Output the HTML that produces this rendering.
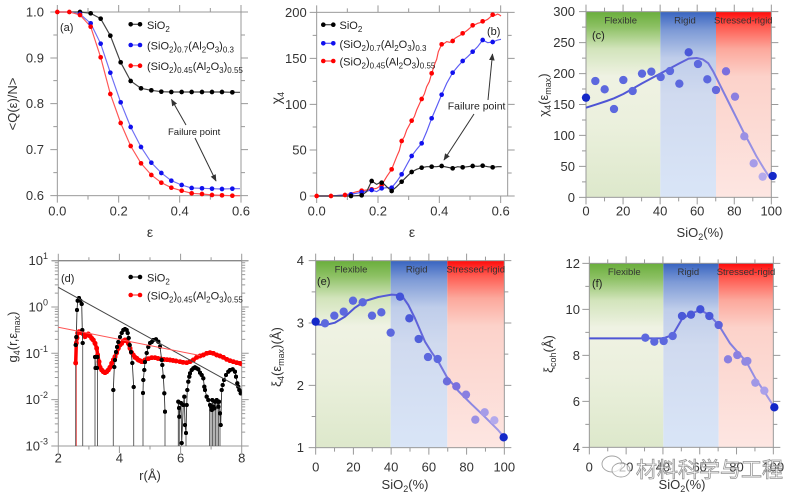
<!DOCTYPE html>
<html><head><meta charset="utf-8">
<style>
html,body{margin:0;padding:0;background:#fff;}
svg{display:block;font-family:"Liberation Sans","Noto Sans CJK SC",sans-serif;}
</style></head><body>
<svg width="800" height="501" viewBox="0 0 800 501" xmlns="http://www.w3.org/2000/svg">
<defs>
<linearGradient id="gG" x1="0" y1="0" x2="0" y2="1">
<stop offset="0" stop-color="#6aae3c"/><stop offset="0.08" stop-color="#8cc063"/><stop offset="0.2" stop-color="#d2e4bb"/><stop offset="0.35" stop-color="#eff2e3"/><stop offset="0.6" stop-color="#ebf0dd"/><stop offset="1" stop-color="#dde8cb"/>
</linearGradient>
<linearGradient id="gB" x1="0" y1="0" x2="0" y2="1">
<stop offset="0" stop-color="#3864c0"/><stop offset="0.1" stop-color="#7d9ad6"/><stop offset="0.25" stop-color="#bfcdea"/><stop offset="0.45" stop-color="#d0daef"/><stop offset="1" stop-color="#d9e5f7"/>
</linearGradient>
<linearGradient id="gR" x1="0" y1="0" x2="0" y2="1">
<stop offset="0" stop-color="#ff0a0a"/><stop offset="0.08" stop-color="#ff5a50"/><stop offset="0.2" stop-color="#fca89c"/><stop offset="0.35" stop-color="#fcd2ca"/><stop offset="1" stop-color="#fde6e2"/>
</linearGradient>
<linearGradient id="fl" x1="0" y1="0" x2="1" y2="0">
<stop offset="0" stop-color="#4a52d4"/><stop offset="0.5" stop-color="#5a5ed8"/><stop offset="1" stop-color="#a59ce6"/>
</linearGradient>
<marker id="mK" markerUnits="userSpaceOnUse" viewBox="0 0 6 6" refX="3" refY="3" markerWidth="4.4" markerHeight="4.4"><circle cx="3" cy="3" r="3" fill="#000"/></marker>
<marker id="mR" markerUnits="userSpaceOnUse" viewBox="0 0 6 6" refX="3" refY="3" markerWidth="5" markerHeight="5"><circle cx="3" cy="3" r="3" fill="#f00"/></marker>
<marker id="ah" viewBox="0 0 10 10" refX="9" refY="5" markerWidth="7" markerHeight="7" orient="auto" markerUnits="userSpaceOnUse"><path d="M0,1 L10,5 L0,9 z" fill="#333"/></marker>
<clipPath id="cd"><rect x="58.3" y="260.7" width="183.4" height="185.3"/></clipPath>
</defs>

<!-- ================= PANEL A ================= -->
<g transform="scale(0.333333)">
<rect x="172" y="36" width="551" height="551" fill="none" stroke="#999" stroke-width="3"/>
<path d="M151,36H172M160,105H172M151,174H172M160,242H172M151,311H172M160,380H172M151,449H172M160,518H172M151,587H172M723,36H744M723,105H735M723,174H744M723,242H735M723,311H744M723,380H735M723,449H744M723,518H735M723,587H744M172,587V608M264,587V599M356,587V608M447,587V599M539,587V608M631,587V599M723,587V608M172,36V15M264,36V24M356,36V15M447,36V24M539,36V15M631,36V24M723,36V15" stroke="#999" stroke-width="3" fill="none"/>
<polyline fill="none" stroke="#444" stroke-width="3.5" points="172,36 208,36 240,36 272,40 302,56 331,107 362,187 392,243 423,265 454,271 484,275 514,276 545,276 575,276 606,276 636,276 666,276 697,277 720,277"/>
<polyline fill="none" stroke="#6f6ff5" stroke-width="3.5" points="172,36 208,36 240,42 272,70 302,131 331,218 362,307 392,381 423,441 454,488 484,519 514,542 545,555 575,564 606,565 636,566 666,567 697,566 720,566"/>
<polyline fill="none" stroke="#ff5555" stroke-width="3.5" points="172,36 208,36 240,45 272,80 302,172 331,282 362,369 392,438 423,490 454,525 484,548 514,563 545,572 575,580 606,582 636,585 666,586 697,587 720,587"/>
<g fill="#000">
<circle cx="240" cy="36" r="7"/><circle cx="272" cy="40" r="7"/><circle cx="302" cy="56" r="7"/><circle cx="331" cy="107" r="7"/><circle cx="362" cy="187" r="7"/><circle cx="392" cy="243" r="7"/><circle cx="423" cy="265" r="7"/><circle cx="454" cy="271" r="7"/><circle cx="484" cy="275" r="7"/><circle cx="514" cy="276" r="7"/><circle cx="545" cy="276" r="7"/><circle cx="575" cy="276" r="7"/><circle cx="606" cy="276" r="7"/><circle cx="636" cy="276" r="7"/><circle cx="666" cy="276" r="7"/><circle cx="697" cy="277" r="7"/>
</g>
<g fill="#1010ee">
<circle cx="240" cy="42" r="7"/><circle cx="272" cy="70" r="7"/><circle cx="302" cy="131" r="7"/><circle cx="331" cy="218" r="7"/><circle cx="362" cy="307" r="7"/><circle cx="392" cy="381" r="7"/><circle cx="423" cy="441" r="7"/><circle cx="454" cy="488" r="7"/><circle cx="484" cy="519" r="7"/><circle cx="514" cy="542" r="7"/><circle cx="545" cy="555" r="7"/><circle cx="575" cy="564" r="7"/><circle cx="606" cy="565" r="7"/><circle cx="636" cy="566" r="7"/><circle cx="666" cy="567" r="7"/><circle cx="697" cy="566" r="7"/>
</g>
<g fill="#f00">
<circle cx="172" cy="36" r="7"/><circle cx="208" cy="36" r="7"/><circle cx="240" cy="45" r="7"/><circle cx="272" cy="80" r="7"/><circle cx="302" cy="172" r="7"/><circle cx="331" cy="282" r="7"/><circle cx="362" cy="369" r="7"/><circle cx="392" cy="438" r="7"/><circle cx="423" cy="490" r="7"/><circle cx="454" cy="525" r="7"/><circle cx="484" cy="548" r="7"/><circle cx="514" cy="563" r="7"/><circle cx="545" cy="572" r="7"/><circle cx="575" cy="580" r="7"/><circle cx="606" cy="582" r="7"/><circle cx="636" cy="585" r="7"/><circle cx="666" cy="586" r="7"/><circle cx="697" cy="587" r="7"/>
</g>
</g>
<g font-size="13" fill="#333">
<g text-anchor="end"><text x="44" y="16.5">1.0</text><text x="44" y="62.5">0.9</text><text x="44" y="108.2">0.8</text><text x="44" y="154.2">0.7</text><text x="44" y="200.2">0.6</text></g>
<g text-anchor="middle"><text x="57.3" y="215.5">0.0</text><text x="118.7" y="215.5">0.2</text><text x="179.7" y="215.5">0.4</text><text x="241" y="215.5">0.6</text></g>
<text x="150" y="237" text-anchor="middle" font-size="14">ε</text>
<text transform="translate(17,104) rotate(-90)" text-anchor="middle">&lt;Q(ε)/N&gt;</text>
</g>
<text x="60" y="31" font-size="11" fill="#222">(a)</text>
<g stroke-width="1.2">
<line x1="130.7" y1="24.3" x2="140" y2="24.3" stroke="#444"/><circle cx="130.7" cy="24.3" r="2.3" fill="#000"/><circle cx="140" cy="24.3" r="2.3" fill="#000"/>
<line x1="130.7" y1="45" x2="140" y2="45" stroke="#6f6ff5"/><circle cx="130.7" cy="45" r="2.3" fill="#1010ee"/><circle cx="140" cy="45" r="2.3" fill="#1010ee"/>
<line x1="130.7" y1="65.7" x2="140" y2="65.7" stroke="#f55"/><circle cx="130.7" cy="65.7" r="2.3" fill="#f00"/><circle cx="140" cy="65.7" r="2.3" fill="#f00"/>
</g>
<g font-size="11" fill="#222">
<text x="147" y="28.8">SiO<tspan dy="3" font-size="8">2</tspan></text>
<text x="147" y="49.5">(SiO<tspan dy="3" font-size="8">2</tspan><tspan dy="-3">)</tspan><tspan dy="3" font-size="8">0.7</tspan><tspan dy="-3">(Al</tspan><tspan dy="3" font-size="8">2</tspan><tspan dy="-3">O</tspan><tspan dy="3" font-size="8">3</tspan><tspan dy="-3">)</tspan><tspan dy="3" font-size="8">0.3</tspan></text>
<text x="147" y="70.2">(SiO<tspan dy="3" font-size="8">2</tspan><tspan dy="-3">)</tspan><tspan dy="3" font-size="8">0.45</tspan><tspan dy="-3">(Al</tspan><tspan dy="3" font-size="8">2</tspan><tspan dy="-3">O</tspan><tspan dy="3" font-size="8">3</tspan><tspan dy="-3">)</tspan><tspan dy="3" font-size="8">0.55</tspan></text>
</g>
<text x="168" y="135" font-size="9.5" fill="#222">Failure point</text>
<g stroke="#333" stroke-width="1" marker-end="url(#ah)"><line x1="186" y1="125" x2="171.5" y2="99.5"/><line x1="195" y1="138" x2="216" y2="181"/></g>

<!-- ================= PANEL B ================= -->
<g transform="translate(265,0) scale(0.333333)">
<rect x="155" y="37" width="573" height="551" fill="none" stroke="#999" stroke-width="3"/>
<path d="M134,37H155M143,106H155M134,175H155M143,244H155M134,313H155M143,381H155M134,450H155M143,519H155M134,588H155M728,37H749M728,106H740M728,175H749M728,244H740M728,313H749M728,381H740M728,450H749M728,519H740M728,588H749M155,588V609M247,588V600M339,588V609M431,588V600M523,588V609M615,588V600M707,588V609M155,37V16M247,37V25M339,37V16M431,37V25M523,37V16M615,37V25M707,37V16" stroke="#999" stroke-width="3" fill="none"/>
<polyline fill="none" stroke="#ff4444" stroke-width="3.5" points="155,588 198,588 240,585 258,580 275,575 290,572 305,570 320,568 335,565 350,555 365,530 380,508 395,470 403,452 410,423 418,410 425,390 440,362 448,350 455,330 470,297 478,282 485,260 493,245 500,220 510,190 515,178 520,155 530,133 538,130 545,125 555,127 563,123 570,115 578,110 585,106 593,100 600,96 608,90 615,84 623,76 630,74 638,70 645,68 653,64 660,62 668,58 675,52 683,44 690,46 698,42 704,45 708,48"/>
<polyline fill="none" stroke="#5a5af5" stroke-width="3.5" points="155,588 198,588 240,585 258,583 290,577 320,570 335,575 350,565 365,563 380,563 395,545 410,523 425,495 440,468 455,448 470,430 485,395 500,355 515,320 530,284 545,250 563,218 578,200 593,183 608,170 623,155 638,140 653,120 668,128 683,126 698,120 708,118"/>
<polyline fill="none" stroke="#333" stroke-width="3.5" points="155,588 198,588 240,588 258,588 290,586 305,575 320,543 335,553 350,545 365,560 380,573 395,560 410,545 425,530 440,516 455,508 470,503 485,500 500,500 515,500 530,498 548,502 563,505 578,500 593,502 608,500 623,498 638,499 653,497 668,500 683,502 698,500 710,500"/>
<g fill="#f00">
<circle cx="155" cy="588" r="7"/><circle cx="198" cy="588" r="7"/><circle cx="240" cy="585" r="7"/><circle cx="290" cy="572" r="7"/><circle cx="320" cy="568" r="7"/><circle cx="350" cy="555" r="7"/><circle cx="380" cy="508" r="7"/><circle cx="410" cy="423" r="7"/><circle cx="440" cy="362" r="7"/><circle cx="470" cy="297" r="7"/><circle cx="500" cy="220" r="7"/><circle cx="530" cy="133" r="7"/><circle cx="563" cy="123" r="7"/><circle cx="593" cy="100" r="7"/><circle cx="623" cy="76" r="7"/><circle cx="653" cy="64" r="7"/><circle cx="683" cy="44" r="7"/>
</g>
<g fill="#1010ee">
<circle cx="258" cy="583" r="7"/><circle cx="290" cy="577" r="7"/><circle cx="320" cy="570" r="7"/><circle cx="350" cy="565" r="7"/><circle cx="380" cy="563" r="7"/><circle cx="410" cy="523" r="7"/><circle cx="440" cy="468" r="7"/><circle cx="470" cy="430" r="7"/><circle cx="500" cy="355" r="7"/><circle cx="530" cy="284" r="7"/><circle cx="563" cy="218" r="7"/><circle cx="593" cy="183" r="7"/><circle cx="623" cy="155" r="7"/><circle cx="653" cy="120" r="7"/><circle cx="683" cy="126" r="7"/>
</g>
<g fill="#000">
<circle cx="258" cy="588" r="7"/><circle cx="290" cy="586" r="7"/><circle cx="320" cy="543" r="7"/><circle cx="350" cy="548" r="7"/><circle cx="380" cy="573" r="7"/><circle cx="410" cy="545" r="7"/><circle cx="440" cy="516" r="7"/><circle cx="470" cy="503" r="7"/><circle cx="500" cy="500" r="7"/><circle cx="530" cy="498" r="7"/><circle cx="563" cy="505" r="7"/><circle cx="593" cy="502" r="7"/><circle cx="623" cy="498" r="7"/><circle cx="653" cy="497" r="7"/><circle cx="683" cy="502" r="7"/>
</g>
</g>
<g font-size="13" fill="#333">
<g text-anchor="end"><text x="306.7" y="16.8">200</text><text x="306.7" y="62.8">150</text><text x="306.7" y="108.8">100</text><text x="306.7" y="154.5">50</text><text x="306.7" y="200.5">0</text></g>
<g text-anchor="middle"><text x="316.7" y="215.5">0.0</text><text x="378" y="215.5">0.2</text><text x="439.3" y="215.5">0.4</text><text x="500.7" y="215.5">0.6</text></g>
<text x="412" y="237" text-anchor="middle" font-size="14">ε</text>
<text transform="translate(281,98) rotate(-90)" text-anchor="middle" font-size="14">χ<tspan dy="3" font-size="9">4</tspan></text>
</g>
<g stroke-width="1.2">
<line x1="323.3" y1="24.7" x2="333.3" y2="24.7" stroke="#444"/><circle cx="323.3" cy="24.7" r="2.3" fill="#000"/><circle cx="333.3" cy="24.7" r="2.3" fill="#000"/>
<line x1="323.3" y1="43.3" x2="333.3" y2="43.3" stroke="#5a5af5"/><circle cx="323.3" cy="43.3" r="2.3" fill="#1010ee"/><circle cx="333.3" cy="43.3" r="2.3" fill="#1010ee"/>
<line x1="323.3" y1="61" x2="333.3" y2="61" stroke="#f44"/><circle cx="323.3" cy="61" r="2.3" fill="#f00"/><circle cx="333.3" cy="61" r="2.3" fill="#f00"/>
</g>
<g font-size="11" fill="#222">
<text x="339.5" y="29.2">SiO<tspan dy="3" font-size="8">2</tspan></text>
<text x="339.5" y="47.8">(SiO<tspan dy="3" font-size="8">2</tspan><tspan dy="-3">)</tspan><tspan dy="3" font-size="8">0.7</tspan><tspan dy="-3">(Al</tspan><tspan dy="3" font-size="8">2</tspan><tspan dy="-3">O</tspan><tspan dy="3" font-size="8">3</tspan><tspan dy="-3">)</tspan><tspan dy="3" font-size="8">0.3</tspan></text>
<text x="339.5" y="65.5">(SiO<tspan dy="3" font-size="8">2</tspan><tspan dy="-3">)</tspan><tspan dy="3" font-size="8">0.45</tspan><tspan dy="-3">(Al</tspan><tspan dy="3" font-size="8">2</tspan><tspan dy="-3">O</tspan><tspan dy="3" font-size="8">3</tspan><tspan dy="-3">)</tspan><tspan dy="3" font-size="8">0.55</tspan></text>
</g>
<text x="487" y="35" font-size="11" fill="#222">(b)</text>
<text x="447.7" y="109.5" font-size="10.5" fill="#222">Failure point</text>
<g stroke="#333" stroke-width="1" marker-end="url(#ah)"><line x1="474" y1="114" x2="444" y2="160"/><line x1="488" y1="100" x2="492.5" y2="54"/></g>

<!-- ================= PANEL C ================= -->
<g transform="translate(530,0) scale(0.333333)">
<rect x="168" y="35" width="223" height="557" fill="url(#gG)"/>
<rect x="391" y="35" width="167" height="557" fill="url(#gB)"/>
<rect x="558" y="35" width="166" height="557" fill="url(#gR)"/>
<rect x="168" y="35" width="556" height="557" fill="none" stroke="#999" stroke-width="3"/>
<path d="M147,35H168M156,81.4H168M147,127.8H168M156,174.3H168M147,220.7H168M156,267.1H168M147,313.5H168M156,359.9H168M147,406.3H168M156,452.8H168M147,499.2H168M156,545.6H168M147,592H168M724,35H745M724,81.4H736M724,127.8H745M724,174.3H736M724,220.7H745M724,267.1H736M724,313.5H745M724,359.9H736M724,406.3H745M724,452.8H736M724,499.2H745M724,545.6H736M724,592H745M168,592V613M223.6,592V604M279.2,592V613M334.8,592V604M390.4,592V613M446,592V604M501.6,592V613M557.2,592V604M612.8,592V613M668.4,592V604M724,592V613M168,35V14M223.6,35V23M279.2,35V14M334.8,35V23M390.4,35V14M446,35V23M501.6,35V14M557.2,35V23M612.8,35V14M668.4,35V23M724,35V14" stroke="#999" stroke-width="3" fill="none"/>
<polyline fill="none" stroke="url(#fl)" stroke-width="6" stroke-linejoin="round" points="168,323 200,313 230,303 252,295 280,282 310,265 336,250 364,235 392,220 420,205 448,190 476,176 500,174 518,178 535,190 550,215 565,245 580,275 600,315 620,355 640,395 660,432 680,470 700,503 720,534"/>
<g fill="#5c68de">
<circle cx="196" cy="243" r="12.5"/><circle cx="224" cy="268" r="12.5"/><circle cx="252" cy="327" r="12.5"/><circle cx="280" cy="240" r="12.5"/><circle cx="308" cy="273" r="12.5"/><circle cx="336" cy="221" r="12.5"/><circle cx="364" cy="215" r="12.5"/><circle cx="392" cy="231" r="12.5"/><circle cx="420" cy="213" r="12.5"/><circle cx="448" cy="251" r="12.5"/><circle cx="476" cy="157" r="12.5" fill="#4a58d8"/><circle cx="504" cy="192" r="12.5"/><circle cx="532" cy="238" r="12.5"/><circle cx="558" cy="270" r="12.5" fill="#6468dc"/>
</g>
<circle cx="588" cy="214" r="12.5" fill="#7a6fde"/><circle cx="615" cy="290" r="12.5" fill="#8a7fe0"/><circle cx="643" cy="409" r="12.5" fill="#9a90e4"/><circle cx="671" cy="490" r="12.5" fill="#a69ce8"/><circle cx="698" cy="530" r="12.5" fill="#b4aaec"/>
<circle cx="168" cy="293" r="12.5" fill="#1428c8"/><circle cx="728" cy="528" r="12.5" fill="#1428c8"/>
</g>
<g font-size="13" fill="#333">
<g text-anchor="end"><text x="575" y="16.2">300</text><text x="575" y="47.1">250</text><text x="575" y="78.1">200</text><text x="575" y="109">150</text><text x="575" y="139.9">100</text><text x="575" y="170.9">50</text><text x="575" y="201.8">0</text></g>
<g text-anchor="middle"><text x="586" y="215.5">0</text><text x="623.1" y="215.5">20</text><text x="660.1" y="215.5">40</text><text x="697.2" y="215.5">60</text><text x="734.3" y="215.5">80</text><text x="771.3" y="215.5">100</text></g>
<text x="700" y="237" text-anchor="middle">SiO<tspan dy="3" font-size="9">2</tspan><tspan dy="-3">(%)</tspan></text>
<text transform="translate(548,95) rotate(-90)" text-anchor="middle">χ<tspan dy="3" font-size="9">4</tspan><tspan dy="-3">(ε</tspan><tspan dy="3" font-size="9">max</tspan><tspan dy="-3">)</tspan></text>
</g>
<g font-size="9.5" fill="#333" text-anchor="middle"><text x="620.7" y="23.3">Flexible</text><text x="685" y="23.3">Rigid</text><text x="743.3" y="23.3">Stressed-rigid</text></g>
<text x="592" y="39" font-size="11" fill="#222">(c)</text>

<!-- ================= PANEL D ================= -->
<rect x="58.3" y="260.7" width="183.4" height="185.3" fill="none" stroke="#999" stroke-width="1"/>
<line x1="52" y1="260.7" x2="248" y2="260.7" stroke="#777" stroke-width="1"/>
<path d="M51.3,260.7H58.3M51.3,307H58.3M51.3,353.3H58.3M51.3,399.6H58.3M51.3,446H58.3M241.7,260.7H248.7M241.7,307H248.7M241.7,353.3H248.7M241.7,399.6H248.7M241.7,446H248.7M58.3,446V453M88.9,446V449.5M119.4,446V453M150,446V449.5M180.6,446V453M211.1,446V449.5M241.7,446V453M58.3,260.7V253.7M88.9,260.7V257.2M119.4,260.7V253.7M150,260.7V257.2M180.6,260.7V253.7M211.1,260.7V257.2M241.7,260.7V253.7" stroke="#999" stroke-width="1" fill="none"/>
<path d="M54.8,432.1H58.3M54.8,423.9H58.3M54.8,418.1H58.3M54.8,413.6H58.3M54.8,410H58.3M54.8,406.9H58.3M54.8,404.2H58.3M54.8,401.8H58.3M54.8,385.7H58.3M54.8,377.5H58.3M54.8,371.7H58.3M54.8,367.2H58.3M54.8,363.6H58.3M54.8,360.5H58.3M54.8,357.8H58.3M54.8,355.4H58.3M54.8,339.4H58.3M54.8,331.2H58.3M54.8,325.4H58.3M54.8,320.9H58.3M54.8,317.3H58.3M54.8,314.2H58.3M54.8,311.5H58.3M54.8,309.1H58.3M54.8,293.1H58.3M54.8,284.9H58.3M54.8,279.1H58.3M54.8,274.6H58.3M54.8,271H58.3M54.8,267.9H58.3M54.8,265.2H58.3M54.8,262.8H58.3M241.7,432.1H245.2M241.7,423.9H245.2M241.7,418.1H245.2M241.7,413.6H245.2M241.7,410H245.2M241.7,406.9H245.2M241.7,404.2H245.2M241.7,401.8H245.2M241.7,385.7H245.2M241.7,377.5H245.2M241.7,371.7H245.2M241.7,367.2H245.2M241.7,363.6H245.2M241.7,360.5H245.2M241.7,357.8H245.2M241.7,355.4H245.2M241.7,339.4H245.2M241.7,331.2H245.2M241.7,325.4H245.2M241.7,320.9H245.2M241.7,317.3H245.2M241.7,314.2H245.2M241.7,311.5H245.2M241.7,309.1H245.2M241.7,293.1H245.2M241.7,284.9H245.2M241.7,279.1H245.2M241.7,274.6H245.2M241.7,271H245.2M241.7,267.9H245.2M241.7,265.2H245.2M241.7,262.8H245.2" stroke="#999" stroke-width="1" fill="none"/>
<g clip-path="url(#cd)">
<path d="M76,446V363" stroke="#f00" stroke-width="1.2" fill="none"/>
<path d="M75.7,446V345 M82.7,343V446 M95,446V357 M97.5,357V446 M113.3,446V390 M133.7,387V446 M143,446V393 M165,411.7V446 M178.3,446V401.7 M179.3,416.7V446 M181.7,443V446 M186,433V446 M209.5,446V408 M211,446V405 M212.5,446V402 M214,446V408 M215.5,446V402 M217,446V401 M218.5,446V406 M220,446V413" stroke="#555" stroke-width="0.9" fill="none"/>
<path d="M75.7,363 L76.3,343 L77,338 L77.7,333 L79,331.7 L81,332.7 L83.3,334 L85,336.7 L86.7,335 L88.3,334 L90,336 L91.7,338.3 L93.3,340 L95,343.3 L96.7,348.3 L97.7,355 L99,361.7 L100,367.3 L101.7,370 L103.3,371.7 L105,372.7 L106.7,371.7 L108.3,370 L110,367.3 L111.7,363.3 L113.3,360 L115,356.7 L116.7,352.7 L118.3,348.3 L120,345 L121.7,343.3 L123.3,341 L125,340 L126.7,341 L128.3,343.3 L130,348.3 L131.7,352.7 L133.3,355 L135,357.3 L136.7,358.3 L138.3,360 L140,360.7 L141.7,361.7 L143.3,361.7 L145,360 L148.3,358.7 L151.7,357.7 L155,357.7 L158,358.5 L161,359 L164,359.5 L167,359.7 L170,360 L173,360.5 L176,361 L180,361.7 L183,362.3 L186.7,362.7 L190,361.7 L193.3,360 L196.7,357.3 L200,356 L203.3,355 L206.7,353.3 L210,352.7 L213.3,353.3 L216.7,355 L220,356 L223.3,357.3 L226.7,359.3 L230,360.7 L233.3,361.7 L236.7,362.7 L240,363.3 L241.7,364" stroke="#f00" stroke-width="3.5" fill="none" marker-start="url(#mR)" marker-mid="url(#mR)" marker-end="url(#mR)"/>
<g stroke="#333" stroke-width="0.9" fill="none" marker-start="url(#mK)" marker-mid="url(#mK)" marker-end="url(#mK)">
<path d="M75.7,345 L76.3,337 L77,310 L77.7,300.7 L79,298 L80.3,300.7 L81.7,304 L82.3,330 L82.7,343"/>
<path d="M95,357 L95.5,368 L97,368 L97.5,357"/>
<path d="M113.3,390 L114.3,367 L115,360 L116,352 L117,347 L118.3,342 L120,337 L121.7,333 L123.3,330 L125,329 L126.7,330 L127.7,333 L128.7,338 L129.7,345 L131,352 L132.3,363 L133.7,387"/>
<path d="M143,393 L143.3,380 L144.3,370 L145,362 L146.7,353 L148.3,347 L150,343 L151.7,342 L153.3,340 L156,339.3 L158.3,341.7 L160,346.7 L161.7,360 L162.3,365 L163.3,376.7 L164.3,393.3 L165,411.7"/>
<path d="M178.3,401.7 L179,408 L179.3,416.7 L181,403 L181.7,443 L183.3,405 L184.3,396.7 L185,425 L186,433 L186.7,405 L187.3,390 L188.3,381.7 L189.3,376.7 L190,373.3 L191.7,370 L193.3,368.3 L195,367.3 L196.7,368.3 L198.3,369.3 L200,372.7 L201.7,375 L203.3,378.3 L204.3,386.7 L205,390 L206.7,396.7 L208.3,400 L210,405 L211,406.7 L211.7,410 L212.3,400 L213.3,406.7 L214.3,408.3 L215,401.7 L216.7,400 L217.7,401.7 L218.3,406.7 L219,401.7 L220,413.3 L220.7,425 L221.7,390 L222.7,385 L224,380 L226,375 L228.3,371.7 L230,370 L232.7,369.3 L235,371.7 L236,376.7 L237.3,383.3 L238.3,386.7 L239.3,390 L240.7,393.3 L241.7,391.7"/>
</g>
<line x1="58.3" y1="287.3" x2="240" y2="387.7" stroke="#444" stroke-width="1"/>
<line x1="58.3" y1="327.3" x2="200" y2="355.5" stroke="#f55" stroke-width="1"/>
</g>
<g font-size="13" fill="#333">
<g text-anchor="end"><text x="48" y="265.2">10<tspan dy="-6" font-size="9">1</tspan></text><text x="48" y="311.5">10<tspan dy="-6" font-size="9">0</tspan></text><text x="48" y="357.8">10<tspan dy="-6" font-size="9">-1</tspan></text><text x="48" y="404.1">10<tspan dy="-6" font-size="9">-2</tspan></text><text x="48" y="450.5">10<tspan dy="-6" font-size="9">-3</tspan></text></g>
<g text-anchor="middle"><text x="58.3" y="462.5">2</text><text x="119.4" y="462.5">4</text><text x="180.6" y="462.5">6</text><text x="241.7" y="462.5">8</text></g>
<text x="150" y="480" text-anchor="middle">r(Å)</text>
<text transform="translate(17,337) rotate(-90)" text-anchor="middle">g<tspan dy="3" font-size="9">4</tspan><tspan dy="-3">(r,ε</tspan><tspan dy="3" font-size="9">max</tspan><tspan dy="-3">)</tspan></text>
</g>
<text x="61" y="282" font-size="11" fill="#222">(d)</text>
<g stroke-width="1.2">
<line x1="130.7" y1="277" x2="140" y2="277" stroke="#444"/><circle cx="130.7" cy="277" r="2.3" fill="#000"/><circle cx="140" cy="277" r="2.3" fill="#000"/>
<line x1="130.7" y1="295" x2="140" y2="295" stroke="#f44"/><circle cx="130.7" cy="295" r="2.3" fill="#f00"/><circle cx="140" cy="295" r="2.3" fill="#f00"/>
</g>
<g font-size="11" fill="#222">
<text x="147" y="281.5">SiO<tspan dy="3" font-size="8">2</tspan></text>
<text x="147" y="299.5">(SiO<tspan dy="3" font-size="8">2</tspan><tspan dy="-3">)</tspan><tspan dy="3" font-size="8">0.45</tspan><tspan dy="-3">(Al</tspan><tspan dy="3" font-size="8">2</tspan><tspan dy="-3">O</tspan><tspan dy="3" font-size="8">3</tspan><tspan dy="-3">)</tspan><tspan dy="3" font-size="8">0.55</tspan></text>
</g>

<!-- ================= PANEL E ================= -->
<g transform="translate(265,245) scale(0.333333)">
<rect x="152" y="47" width="225" height="561" fill="url(#gG)"/>
<rect x="377" y="47" width="170" height="561" fill="url(#gB)"/>
<rect x="547" y="47" width="171" height="561" fill="url(#gR)"/>
<rect x="152" y="47" width="566" height="561" fill="none" stroke="#999" stroke-width="3"/>
<path d="M131,47H152M140,140.5H152M131,234H152M140,327.5H152M131,421H152M140,514.5H152M131,608H152M718,47H739M718,140.5H730M718,234H739M718,327.5H730M718,421H739M718,514.5H730M718,608H739M152,608V629M208.6,608V620M265.2,608V629M321.8,608V620M378.4,608V629M435,608V620M491.6,608V629M548.2,608V620M604.8,608V629M661.4,608V620M718,608V629M152,47V26M208.6,47V35M265.2,47V26M321.8,47V35M378.4,47V26M435,47V35M491.6,47V26M548.2,47V35M604.8,47V26M661.4,47V35M718,47V26" stroke="#999" stroke-width="3" fill="none"/>
<polyline fill="none" stroke="url(#fl)" stroke-width="6" stroke-linejoin="round" points="152,238 180,240 210,233 240,215 270,188 300,168 340,156 380,149 410,151 430,180 450,220 465,255 480,290 500,322 520,350 545,395 580,438 620,478 660,516 700,556 716,575"/>
<g fill="#5c68de">
<circle cx="180" cy="235" r="12.5"/><circle cx="208" cy="212" r="12.5"/><circle cx="236" cy="200" r="12.5"/><circle cx="264" cy="167" r="12.5"/><circle cx="293" cy="172" r="12.5"/><circle cx="321" cy="212" r="12.5"/><circle cx="349" cy="202" r="12.5"/><circle cx="377" cy="263" r="12.5"/><circle cx="405" cy="155" r="12.5" fill="#4252d8"/><circle cx="433" cy="220" r="12.5" fill="#4a58d8"/><circle cx="461" cy="282" r="12.5" fill="#5060da"/><circle cx="489" cy="336" r="12.5"/><circle cx="518" cy="342" r="12.5"/><circle cx="546" cy="409" r="12.5" fill="#6a6cdc"/>
</g>
<circle cx="574" cy="424" r="12.5" fill="#7a70de"/><circle cx="603" cy="449" r="12.5" fill="#8a7fe0"/><circle cx="631" cy="524" r="12.5" fill="#9a90e4"/><circle cx="659" cy="502" r="12.5" fill="#a69ce8"/><circle cx="688" cy="526" r="12.5" fill="#b4aaec"/>
<circle cx="152" cy="230" r="12.5" fill="#1428c8"/><circle cx="716" cy="577" r="12.5" fill="#1428c8"/>
</g>
<g font-size="13" fill="#333">
<g text-anchor="end"><text x="304" y="265.2">4</text><text x="304" y="327.5">3</text><text x="304" y="389.8">2</text><text x="304" y="452.2">1</text></g>
<g text-anchor="middle"><text x="315.7" y="471.5">0</text><text x="353.4" y="471.5">20</text><text x="391.1" y="471.5">40</text><text x="428.9" y="471.5">60</text><text x="466.6" y="471.5">80</text><text x="504.3" y="471.5">100</text></g>
<text x="405" y="489" text-anchor="middle">SiO<tspan dy="3" font-size="9">2</tspan><tspan dy="-3">(%)</tspan></text>
<text transform="translate(281,357) rotate(-90)" text-anchor="middle">ξ<tspan dy="3" font-size="9">4</tspan><tspan dy="-3">(ε</tspan><tspan dy="3" font-size="9">max</tspan><tspan dy="-3">)(Å)</tspan></text>
</g>
<g font-size="9.5" fill="#333" text-anchor="middle"><text x="351" y="272.5">Flexible</text><text x="416.7" y="272.5">Rigid</text><text x="475.7" y="272.5">Stressed-rigid</text></g>
<text x="317" y="285" font-size="11" fill="#222">(e)</text>

<!-- ================= PANEL F ================= -->
<g transform="translate(530,245) scale(0.333333)">
<rect x="178" y="55" width="222" height="552" fill="url(#gG)"/>
<rect x="400" y="55" width="166" height="552" fill="url(#gB)"/>
<rect x="566" y="55" width="164" height="552" fill="url(#gR)"/>
<rect x="178" y="55" width="552" height="552" fill="none" stroke="#999" stroke-width="3"/>
<path d="M157,55H178M166,124H178M157,193H178M166,262H178M157,331H178M166,400H178M157,469H178M166,538H178M157,607H178M730,55H751M730,124H742M730,193H751M730,262H742M730,331H751M730,400H742M730,469H751M730,538H742M730,607H751M178,607V628M233.2,607V619M288.4,607V628M343.6,607V619M398.8,607V628M454,607V619M509.2,607V628M564.4,607V619M619.6,607V628M674.8,607V619M730,607V628M178,55V34M233.2,55V43M288.4,55V34M343.6,55V43M398.8,55V34M454,55V43M509.2,55V34M564.4,55V43M619.6,55V34M674.8,55V43M730,55V34" stroke="#999" stroke-width="3" fill="none"/>
<polyline fill="none" stroke="url(#fl)" stroke-width="6" stroke-linejoin="round" points="178,280 400,280 428,270 456,222 483,206 511,195 538,210 566,240 600,295 622,320 649,350 676,400 703,440 733,487"/>
<g fill="#5c68de">
<circle cx="346" cy="278" r="12.5"/><circle cx="373" cy="290" r="12.5"/><circle cx="401" cy="288" r="12.5"/><circle cx="428" cy="273" r="12.5"/><circle cx="456" cy="213" r="12.5" fill="#4a58d8"/><circle cx="483" cy="209" r="12.5" fill="#4a58d8"/><circle cx="511" cy="193" r="12.5" fill="#4252d8"/><circle cx="538" cy="213" r="12.5" fill="#4a58d8"/><circle cx="566" cy="240" r="12.5" fill="#5c62da"/>
</g>
<circle cx="594" cy="343" r="12.5" fill="#8a80e0"/><circle cx="622" cy="330" r="12.5" fill="#8a80e0"/><circle cx="646" cy="350" r="12.5" fill="#9088e2"/><circle cx="652" cy="348" r="12.5" fill="#9088e2"/><circle cx="676" cy="413" r="12.5" fill="#a098e6"/><circle cx="703" cy="437" r="12.5" fill="#aaa0ea"/>
<circle cx="733" cy="487" r="12.5" fill="#1428c8"/>
</g>
<g font-size="13" fill="#333">
<g text-anchor="end"><text x="580" y="267.8">12</text><text x="580" y="313.8">10</text><text x="580" y="359.8">8</text><text x="580" y="405.8">6</text><text x="580" y="451.8">4</text></g>
<g text-anchor="middle"><text x="589.3" y="471.5">0</text><text x="626.1" y="471.5">20</text><text x="662.9" y="471.5">40</text><text x="699.7" y="471.5">60</text><text x="736.5" y="471.5">80</text><text x="773.3" y="471.5">100</text></g>
<text x="682" y="489" text-anchor="middle">SiO<tspan dy="3" font-size="9">2</tspan><tspan dy="-3">(%)</tspan></text>
<text transform="translate(553,354) rotate(-90)" text-anchor="middle">ξ<tspan dy="3" font-size="9">coh</tspan><tspan dy="-3">(Å)</tspan></text>
</g>
<g font-size="9.5" fill="#333" text-anchor="middle"><text x="624.3" y="275">Flexible</text><text x="688.3" y="275">Rigid</text><text x="746" y="275">Stressed-rigid</text></g>
<text x="592" y="287" font-size="11" fill="#222">(f)</text>

<!-- watermark -->
<g opacity="0.9">
<ellipse cx="612" cy="464" rx="10" ry="8" fill="#fff" fill-opacity="0.7" stroke="#999" stroke-width="0.9"/>
<ellipse cx="621" cy="470" rx="9" ry="7" fill="#fff" fill-opacity="0.7" stroke="#999" stroke-width="0.9"/>
<text x="636" y="477" font-family="'Liberation Sans','Noto Sans CJK SC',sans-serif" font-size="21" fill="#fff" fill-opacity="0.75" stroke="#8a8a8a" stroke-width="0.8">材料科学与工程</text>
</g>
</svg>
</body></html>
